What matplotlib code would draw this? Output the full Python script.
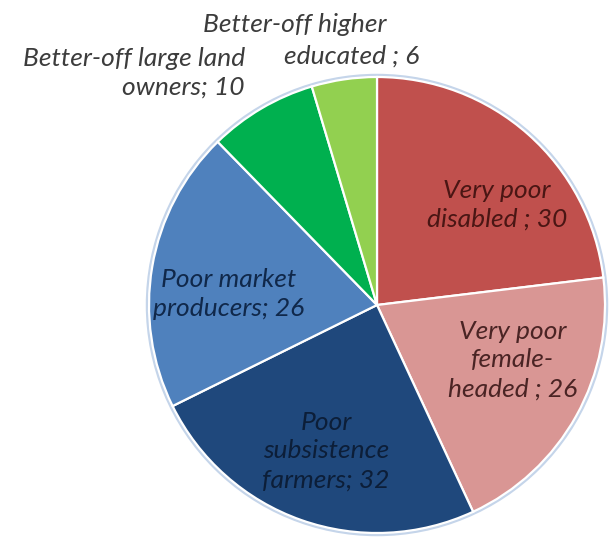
import matplotlib.pyplot as plt
from matplotlib.patches import Circle

# slices, clockwise from 12 o'clock
categories = [
    "Very poor\ndisabled ; 30",
    "Very poor\nfemale-\nheaded ; 26",
    "Poor\nsubsistence\nfarmers; 32",
    "Poor market\nproducers; 26",
    "Better-off large land\nowners; 10",
    "Better-off higher\neducated ; 6",
]
values = [30, 26, 32, 26, 10, 6]

colors = ["#c0504d", "#d99694", "#1f487c", "#4f81bd", "#00b04f", "#92d050"]
text_colors = ["#4a1614", "#4a2424", "#0c1e38", "#10284a", "#3c3c3c", "#3c3c3c"]

# label anchors in pixel coords (x, y from top), alignment
label_pos = [(497, 205, "center"), (513, 360, "center"), (326, 451, "center"),
             (229, 294, "center"), (245, 73, "right"), (None, None, None)]

W, H = 609, 537
cx, cy, r = 377, 305, 228

fig = plt.figure(figsize=(W / 100, H / 100), dpi=100)
ax = fig.add_axes([0, 0, 1, 1])

ax.add_patch(Circle((cx, H - cy), r + 1.5, facecolor="none",
                    edgecolor="#c5d5ea", linewidth=2.5, zorder=0))

ax.pie(values, colors=colors, startangle=90, counterclock=False,
       center=(cx, H - cy), radius=r, frame=True,
       wedgeprops=dict(edgecolor="white", linewidth=1.6))
ax.set_xlim(0, W)
ax.set_ylim(0, H)
ax.set_aspect("equal")
ax.axis("off")

font = dict(family="Lato", style="italic", fontsize=19, linespacing=1.3)

for lab, tc, (x, y, ha) in zip(categories, text_colors, label_pos):
    if x is None:
        continue
    ax.text(x, H - y, lab, color=tc, ha=ha, va="center", multialignment=ha, **font)

# the top label is staggered, so place its two lines separately
top1, top2 = categories[5].split("\n")
ax.text(295, H - 25, top1, color=text_colors[5], ha="center", va="center", **font)
ax.text(352, H - 56, top2, color=text_colors[5], ha="center", va="center", **font)

fig.savefig("out.png", dpi=100)
